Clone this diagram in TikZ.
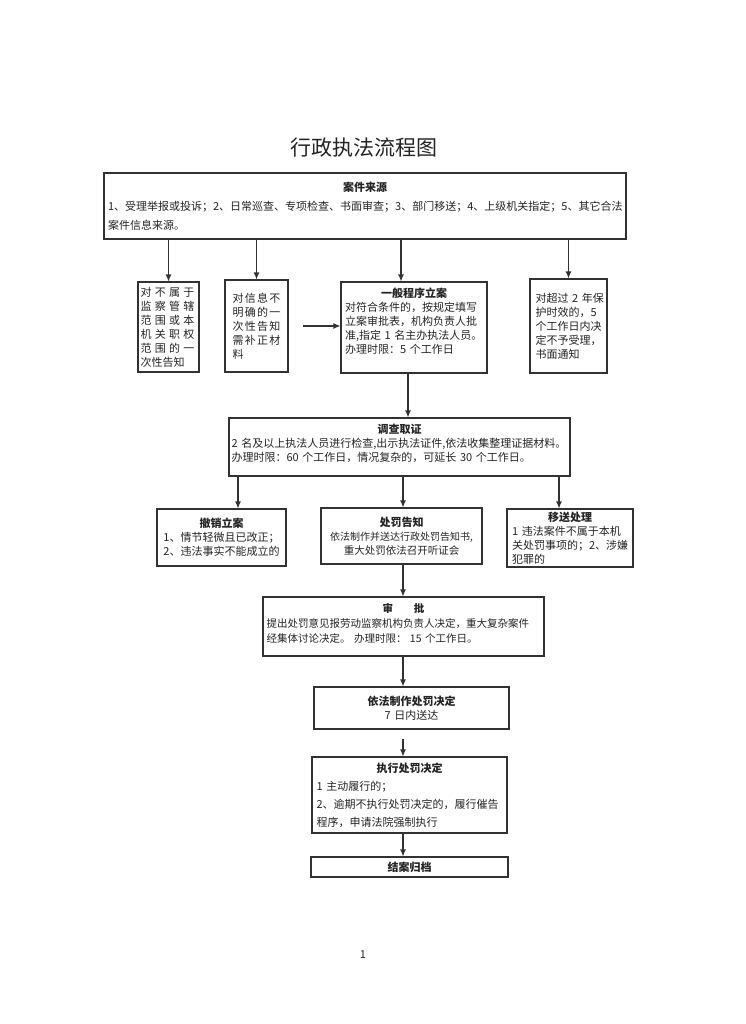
\documentclass[tikz,border=0pt]{standalone}
\usepackage{fontspec}
\setmainfont{Noto Sans CJK SC}
\newfontfamily\spreadwide[LetterSpace=30]{Noto Sans CJK SC}
\newfontfamily\spreadnarrow[LetterSpace=12]{Noto Sans CJK SC}
\usetikzlibrary{arrows.meta}
\definecolor{frameline}{RGB}{50,50,50}
\definecolor{printtext}{RGB}{35,35,35}
\tikzset{
  stepbox/.style={draw=frameline, line width=1.1pt, inner sep=0pt,
    text=printtext, font=\fontsize{11}{14}\selectfont},
  flow/.style={draw=frameline, line width=1.1pt,
    -{Latex[length=7pt,width=6pt]}},
}
\newcommand{\boxhead}[1]{\makebox[\linewidth]{\bfseries #1}}

\begin{document}
\begin{tikzpicture}[x=1pt, y=-1pt]
  \useasboundingbox (0,0) rectangle (745,1024);

  \node[text=printtext, font=\fontsize{21}{21}\selectfont] (heading) at (364,148) {行政执法流程图};

  % case sources
  \node[stepbox, minimum width=522pt, minimum height=66pt, text width=514pt, align=left]
    (source) at (365,206)
    {\boxhead{案件来源}\\[5pt]
     1、受理举报或投诉；2、日常巡查、专项检查、书面审查；3、部门移送；4、上级机关指定；5、其它合法\\[5pt]
     案件信息来源。};

  % first row
  \node[stepbox, minimum width=61pt, minimum height=90pt, text width=56pt, align=left]
    (outscope) at (168.5,327)
    {\spreadwide 对不属于\\监察管辖\\范围或本\\机关职权\\范围的一\\\normalfont 次性告知};
  \node[stepbox, minimum width=63pt, minimum height=92pt, text width=48pt, align=left]
    (vague) at (256.5,326)
    {\spreadnarrow 对信息不\\明确的一\\次性告知\\需补正材\\料};
  \node[stepbox, minimum width=146pt, minimum height=91pt, text width=138pt, align=left]
    (register) at (414,327.5)
    {\boxhead{一般程序立案}\\
     对符合条件的，按规定填写\\
     立案审批表，机构负责人批\\
     准,指定~1~名主办执法人员。\\
     办理时限：5~个工作日\\
     \mbox{}};
  \node[stepbox, minimum width=77pt, minimum height=94pt, text width=66pt, align=left]
    (expired) at (568.5,326)
    {对超过~2~年保\\护时效的，5\\个工作日内决\\定不予受理，\\书面通知};

  % investigation
  \node[stepbox, minimum width=341pt, minimum height=58pt, text width=336pt, align=left]
    (investigate) at (399.5,447)
    {\boxhead{调查取证}\\
     2~名及以上执法人员进行检查,出示执法证件,依法收集整理证据材料。\\
     办理时限：60~个工作日，情况复杂的，可延长~30~个工作日。\\[-6pt]
     \mbox{}};

  % second row
  \node[stepbox, minimum width=129pt, minimum height=57pt, text width=124pt, align=center]
    (revoke) at (221.5,537.5)
    {{\bfseries 撤销立案}\\1、情节轻微且已改正；\\2、违法事实不能成立的};
  \node[stepbox, minimum width=161pt, minimum height=56pt, text width=156pt, align=center]
    (notice) at (401.5,536)
    {{\bfseries 处罚告知}\\
     {\fontsize{10}{14}\selectfont 依法制作并送达行政处罚告知书,}\\
     {\fontsize{10.5}{14}\selectfont 重大处罚依法召开听证会}};
  \node[stepbox, minimum width=126pt, minimum height=58pt, text width=116pt, align=left]
    (transfer) at (570,538)
    {\boxhead{移送处理}\\1~违法案件不属于本机\\关处罚事项的；2、涉嫌\\犯罪的};

  % approval and decision
  \node[stepbox, minimum width=281pt, minimum height=59pt, text width=274pt, align=left,
    font=\fontsize{10.5}{15}\selectfont]
    (approve) at (403.5,626.5)
    {\boxhead{审\hspace{2em}批}\\
     提出处罚意见报劳动监察机构负责人决定，重大复杂案件\\
     经集体讨论决定。 办理时限：~15~个工作日。\\[-7pt]
     \mbox{}};
  \node[stepbox, minimum width=195pt, minimum height=42pt, text width=186pt, align=center]
    (decide) at (411.5,708)
    {{\bfseries 依法制作处罚决定}\\7~日内送达};
  \node[stepbox, minimum width=195pt, minimum height=76pt, text width=186pt, align=left,
    font=\fontsize{11}{18}\selectfont]
    (enforce) at (409.5,795)
    {\boxhead{执行处罚决定}\\
     1~主动履行的；\\
     2、逾期不执行处罚决定的，履行催告\\
     程序，申请法院强制执行};
  \node[stepbox, minimum width=197pt, minimum height=20pt, align=center]
    (archive) at (409.5,867) {\bfseries 结案归档};

  \node[text=printtext, font=\fontsize{11}{11}\selectfont] (pageno) at (363,955) {1};

  % arrow columns
  \coordinate (colreg) at (401,0);
  \coordinate (colinv) at (408,0);
  \coordinate (colrev) at (238,0);
  \coordinate (coltra) at (559,0);
  \coordinate (trunk) at (403,0);

  \draw[flow] (source.south -| outscope.north) -- (outscope.north);
  \draw[flow] (source.south -| vague.north) -- (vague.north);
  \draw[flow] (source.south -| colreg) -- (register.north -| colreg);
  \draw[flow] (source.south -| expired.north) -- (expired.north);
  \draw[flow] ([xshift=14pt]vague.east) -- (register.west |- vague.east);
  \draw[flow] (register.south -| colinv) -- (investigate.north -| colinv);

  \draw[flow] (investigate.south -| colrev) -- (revoke.north -| colrev);
  \draw[flow] (investigate.south -| trunk) -- (notice.north -| trunk);
  \draw[flow] (investigate.south -| coltra) -- (transfer.north -| coltra);

  \draw[flow] (notice.south -| trunk) -- (approve.north -| trunk);
  \draw[flow] (approve.south -| trunk) -- (decide.north -| trunk);
  \draw[flow] ([yshift=-9pt]decide.south -| trunk) -- (enforce.north -| trunk);
  \draw[flow] (enforce.south -| trunk) -- (archive.north -| trunk);
\end{tikzpicture}
\end{document}
